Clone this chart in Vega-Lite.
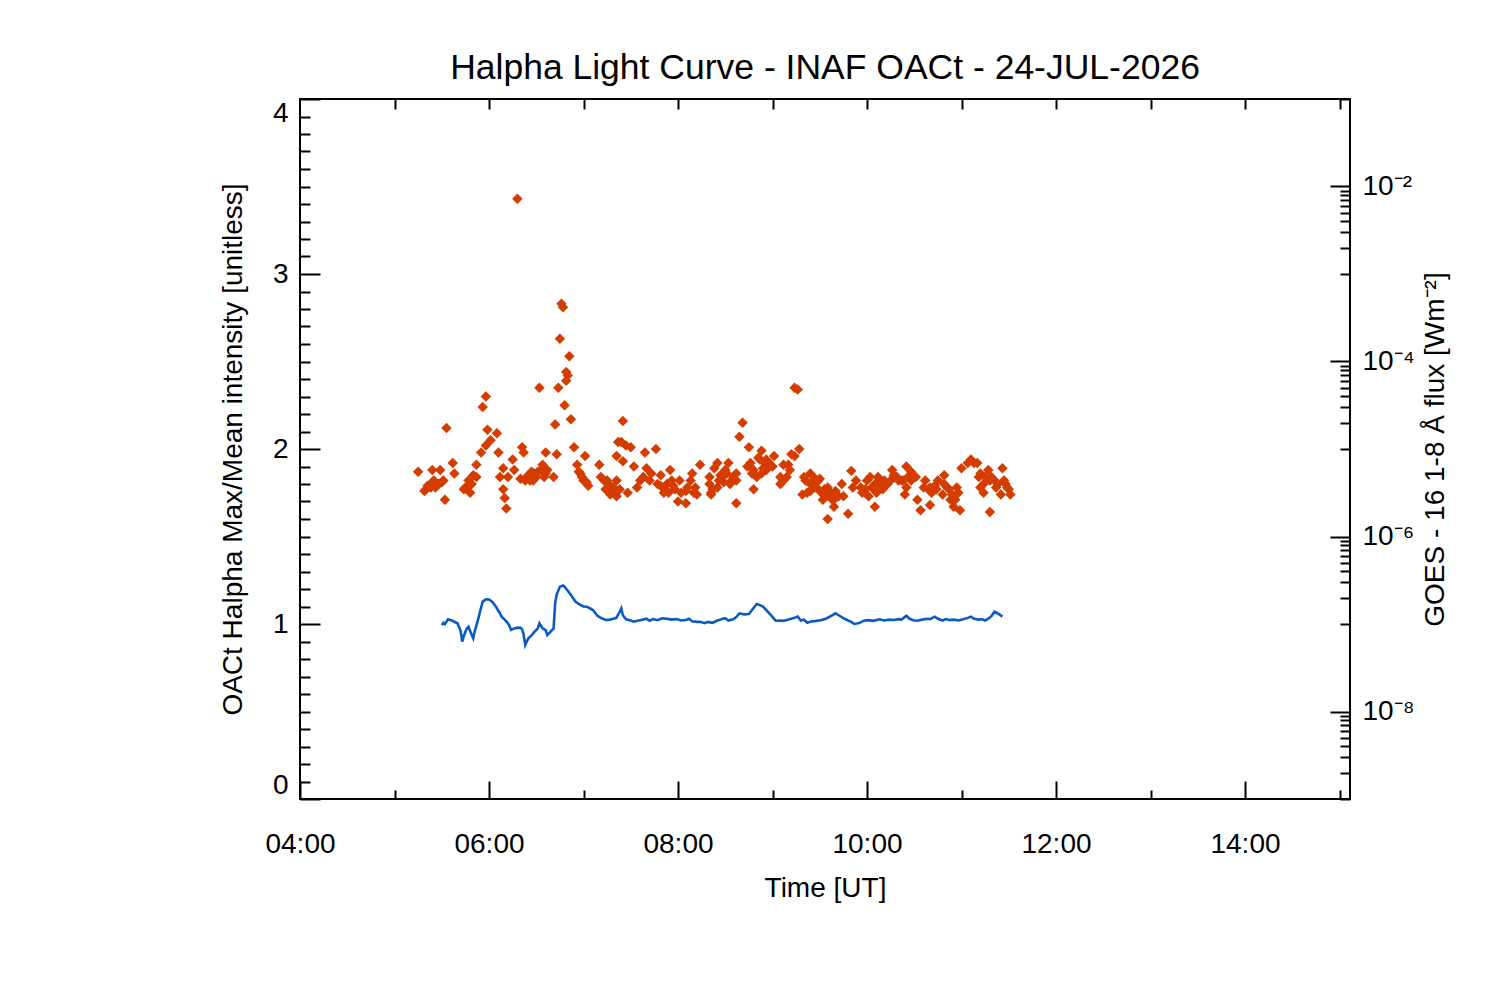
{
  "$schema": "https://vega.github.io/schema/vega-lite/v6.json",
  "width": 1050,
  "height": 700,
  "autosize": "none",
  "padding": {"left": 300, "top": 99, "right": 150, "bottom": 201},
  "background": "white",
  "title": {
    "text": "Halpha Light Curve - INAF OACt - 24-JUL-2026",
    "font": "Liberation Sans",
    "fontSize": 35.5,
    "fontWeight": "normal",
    "color": "black",
    "anchor": "middle",
    "offset": 12
  },
  "config": {
    "view": {"stroke": "black", "strokeWidth": 2},
    "axis": {
      "domain": false,
      "grid": false,
      "tickColor": "black",
      "tickWidth": 2,
      "labelFont": "Liberation Sans",
      "labelFontSize": 28,
      "labelColor": "black",
      "labelBound": false,
      "labelOverlap": false,
      "titleFont": "Liberation Sans",
      "titleFontSize": 28,
      "titleFontWeight": "normal",
      "titleColor": "black"
    }
  },
  "datasets": {
    "halpha": [
      {"t": "05:15", "v": 1.87}, {"t": "05:19", "v": 1.76}, {"t": "05:20", "v": 1.77}, {"t": "05:21", "v": 1.79},
      {"t": "05:23", "v": 1.78}, {"t": "05:24", "v": 1.88}, {"t": "05:24", "v": 1.81}, {"t": "05:25", "v": 1.82},
      {"t": "05:26", "v": 1.78}, {"t": "05:28", "v": 1.80}, {"t": "05:29", "v": 1.88}, {"t": "05:30", "v": 1.81},
      {"t": "05:31", "v": 1.82}, {"t": "05:32", "v": 1.71}, {"t": "05:33", "v": 2.12}, {"t": "05:37", "v": 1.92},
      {"t": "05:38", "v": 1.86}, {"t": "05:44", "v": 1.77}, {"t": "05:45", "v": 1.78}, {"t": "05:46", "v": 1.77},
      {"t": "05:47", "v": 1.82}, {"t": "05:48", "v": 1.75}, {"t": "05:49", "v": 1.80}, {"t": "05:50", "v": 1.85},
      {"t": "05:52", "v": 1.91}, {"t": "05:52", "v": 1.84}, {"t": "05:55", "v": 1.98},
      {"t": "05:56", "v": 2.24}, {"t": "05:58", "v": 2.30}, {"t": "05:58", "v": 2.02}, {"t": "05:59", "v": 2.11},
      {"t": "06:01", "v": 2.05}, {"t": "06:05", "v": 2.09}, {"t": "06:06", "v": 1.98}, {"t": "06:07", "v": 1.84},
      {"t": "06:09", "v": 1.89}, {"t": "06:09", "v": 1.77}, {"t": "06:10", "v": 1.72}, {"t": "06:11", "v": 1.66},
      {"t": "06:12", "v": 1.84}, {"t": "06:15", "v": 1.94}, {"t": "06:16", "v": 1.88}, {"t": "06:18", "v": 3.43},
      {"t": "06:20", "v": 1.83}, {"t": "06:21", "v": 2.01}, {"t": "06:22", "v": 1.98}, {"t": "06:23", "v": 1.82},
      {"t": "06:24", "v": 1.84}, {"t": "06:25", "v": 1.85}, {"t": "06:26", "v": 1.82}, {"t": "06:27", "v": 1.87},
      {"t": "06:28", "v": 1.82}, {"t": "06:29", "v": 1.86}, {"t": "06:30", "v": 1.84}, {"t": "06:31", "v": 1.87},
      {"t": "06:32", "v": 2.35}, {"t": "06:33", "v": 1.88}, {"t": "06:34", "v": 1.91}, {"t": "06:35", "v": 1.84},
      {"t": "06:36", "v": 1.98}, {"t": "06:36", "v": 1.86}, {"t": "06:37", "v": 1.88},
      {"t": "06:41", "v": 1.84}, {"t": "06:42", "v": 2.14}, {"t": "06:43", "v": 1.97}, {"t": "06:44", "v": 2.35},
      {"t": "06:45", "v": 2.63}, {"t": "06:46", "v": 2.83}, {"t": "06:47", "v": 2.81}, {"t": "06:48", "v": 2.25},
      {"t": "06:49", "v": 2.39}, {"t": "06:49", "v": 2.44}, {"t": "06:50", "v": 2.42}, {"t": "06:51", "v": 2.53},
      {"t": "06:52", "v": 2.17}, {"t": "06:54", "v": 2.01}, {"t": "06:56", "v": 1.91}, {"t": "06:57", "v": 1.87},
      {"t": "06:58", "v": 1.86}, {"t": "06:59", "v": 1.84}, {"t": "07:00", "v": 1.82}, {"t": "07:01", "v": 1.96},
      {"t": "07:02", "v": 1.81}, {"t": "07:03", "v": 1.79}, {"t": "07:10", "v": 1.91},
      {"t": "07:11", "v": 1.84}, {"t": "07:13", "v": 1.82}, {"t": "07:14", "v": 1.77}, {"t": "07:15", "v": 1.82},
      {"t": "07:16", "v": 1.80}, {"t": "07:17", "v": 1.74}, {"t": "07:18", "v": 1.78},
      {"t": "07:19", "v": 1.78}, {"t": "07:19", "v": 1.77}, {"t": "07:20", "v": 1.74}, {"t": "07:21", "v": 1.96},
      {"t": "07:21", "v": 1.82}, {"t": "07:21", "v": 1.73},
      {"t": "07:22", "v": 2.04}, {"t": "07:23", "v": 1.77}, {"t": "07:24", "v": 2.04}, {"t": "07:25", "v": 2.16},
      {"t": "07:25", "v": 1.93}, {"t": "07:27", "v": 2.02}, {"t": "07:28", "v": 1.75}, {"t": "07:30", "v": 2.01},
      {"t": "07:32", "v": 1.90}, {"t": "07:34", "v": 1.78}, {"t": "07:36", "v": 1.82}, {"t": "07:38", "v": 1.84},
      {"t": "07:39", "v": 1.98}, {"t": "07:40", "v": 1.89}, {"t": "07:42", "v": 1.82}, {"t": "07:43", "v": 1.86},
      {"t": "07:46", "v": 2.00}, {"t": "07:47", "v": 1.80},
      {"t": "07:49", "v": 1.85}, {"t": "07:49", "v": 1.79}, {"t": "07:51", "v": 1.75}, {"t": "07:52", "v": 1.77},
      {"t": "07:53", "v": 1.80}, {"t": "07:54", "v": 1.75},
      {"t": "07:55", "v": 1.88}, {"t": "07:56", "v": 1.82}, {"t": "07:57", "v": 1.79}, {"t": "07:58", "v": 1.77},
      {"t": "08:00", "v": 1.70}, {"t": "08:01", "v": 1.82},
      {"t": "08:02", "v": 1.75}, {"t": "08:05", "v": 1.69}, {"t": "08:05", "v": 1.76}, {"t": "08:06", "v": 1.78},
      {"t": "08:08", "v": 1.82}, {"t": "08:09", "v": 1.86}, {"t": "08:10", "v": 1.75},
      {"t": "08:11", "v": 1.78}, {"t": "08:12", "v": 1.74}, {"t": "08:14", "v": 1.91}, {"t": "08:20", "v": 1.84},
      {"t": "08:20", "v": 1.80}, {"t": "08:21", "v": 1.75}, {"t": "08:21", "v": 1.74}, {"t": "08:22", "v": 1.77},
      {"t": "08:23", "v": 1.89}, {"t": "08:25", "v": 1.92}, {"t": "08:25", "v": 1.78}, {"t": "08:26", "v": 1.82},
      {"t": "08:27", "v": 1.85}, {"t": "08:28", "v": 1.84}, {"t": "08:29", "v": 1.81}, {"t": "08:30", "v": 1.88},
      {"t": "08:31", "v": 1.86}, {"t": "08:32", "v": 1.92},
      {"t": "08:33", "v": 1.80}, {"t": "08:34", "v": 1.82}, {"t": "08:35", "v": 1.84}, {"t": "08:37", "v": 1.69},
      {"t": "08:37", "v": 1.86}, {"t": "08:37", "v": 1.82},
      {"t": "08:39", "v": 2.07}, {"t": "08:41", "v": 2.15}, {"t": "08:44", "v": 1.90}, {"t": "08:45", "v": 2.01},
      {"t": "08:46", "v": 1.92}, {"t": "08:47", "v": 1.86}, {"t": "08:48", "v": 1.77}, {"t": "08:48", "v": 1.88},
      {"t": "08:50", "v": 1.84}, {"t": "08:51", "v": 1.95}, {"t": "08:52", "v": 1.94},
      {"t": "08:53", "v": 1.99}, {"t": "08:53", "v": 1.86}, {"t": "08:54", "v": 1.89}, {"t": "08:55", "v": 1.92},
      {"t": "08:56", "v": 1.88}, {"t": "08:56", "v": 1.94}, {"t": "08:58", "v": 1.92},
      {"t": "09:00", "v": 1.90}, {"t": "09:01", "v": 1.96}, {"t": "09:05", "v": 1.80}, {"t": "09:05", "v": 1.84},
      {"t": "09:07", "v": 1.91}, {"t": "09:07", "v": 1.82}, {"t": "09:10", "v": 1.91},
      {"t": "09:09", "v": 1.84}, {"t": "09:11", "v": 1.88}, {"t": "09:12", "v": 1.97}, {"t": "09:14", "v": 1.96},
      {"t": "09:14", "v": 2.35}, {"t": "09:16", "v": 2.34}, {"t": "09:17", "v": 2.00}, {"t": "09:19", "v": 1.74},
      {"t": "09:20", "v": 1.84}, {"t": "09:21", "v": 1.82}, {"t": "09:22", "v": 1.75},
      {"t": "09:24", "v": 1.86}, {"t": "09:24", "v": 1.76}, {"t": "09:24", "v": 1.80}, {"t": "09:26", "v": 1.84},
      {"t": "09:26", "v": 1.82},
      {"t": "09:27", "v": 1.78}, {"t": "09:28", "v": 1.78}, {"t": "09:29", "v": 1.82}, {"t": "09:29", "v": 1.82},
      {"t": "09:30", "v": 1.83}, {"t": "09:31", "v": 1.75},
      {"t": "09:32", "v": 1.71}, {"t": "09:33", "v": 1.77}, {"t": "09:34", "v": 1.73}, {"t": "09:35", "v": 1.60},
      {"t": "09:35", "v": 1.78}, {"t": "09:37", "v": 1.75}, {"t": "09:38", "v": 1.71},
      {"t": "09:39", "v": 1.67}, {"t": "09:40", "v": 1.72}, {"t": "09:40", "v": 1.76}, {"t": "09:42", "v": 1.73},
      {"t": "09:44", "v": 1.80}, {"t": "09:45", "v": 1.73},
      {"t": "09:48", "v": 1.63}, {"t": "09:50", "v": 1.875}, {"t": "09:51", "v": 1.78}, {"t": "09:53", "v": 1.82},
      {"t": "09:56", "v": 1.78}, {"t": "09:57", "v": 1.75}, {"t": "09:59", "v": 1.77}, {"t": "10:00", "v": 1.82},
      {"t": "10:01", "v": 1.73}, {"t": "10:02", "v": 1.84}, {"t": "10:03", "v": 1.78}, {"t": "10:05", "v": 1.67},
      {"t": "10:05", "v": 1.80}, {"t": "10:06", "v": 1.75}, {"t": "10:07", "v": 1.84}, {"t": "10:08", "v": 1.82},
      {"t": "10:09", "v": 1.78}, {"t": "10:10", "v": 1.77}, {"t": "10:11", "v": 1.82}, {"t": "10:13", "v": 1.80},
      {"t": "10:15", "v": 1.82}, {"t": "10:16", "v": 1.88}, {"t": "10:17", "v": 1.85}, {"t": "10:19", "v": 1.84},
      {"t": "10:20", "v": 1.82}, {"t": "10:22", "v": 1.82}, {"t": "10:23", "v": 1.82},
      {"t": "10:24", "v": 1.74}, {"t": "10:25", "v": 1.90}, {"t": "10:25", "v": 1.78}, {"t": "10:26", "v": 1.84},
      {"t": "10:28", "v": 1.87}, {"t": "10:28", "v": 1.82}, {"t": "10:31", "v": 1.84},
      {"t": "10:32", "v": 1.71}, {"t": "10:34", "v": 1.65}, {"t": "10:36", "v": 1.78}, {"t": "10:37", "v": 1.82},
      {"t": "10:39", "v": 1.77}, {"t": "10:40", "v": 1.68}, {"t": "10:40", "v": 1.78}, {"t": "10:41", "v": 1.75},
      {"t": "10:43", "v": 1.79}, {"t": "10:44", "v": 1.77}, {"t": "10:45", "v": 1.82}, {"t": "10:48", "v": 1.74},
      {"t": "10:49", "v": 1.85}, {"t": "10:49", "v": 1.80}, {"t": "10:51", "v": 1.78}, {"t": "10:52", "v": 1.77},
      {"t": "10:53", "v": 1.71}, {"t": "10:54", "v": 1.74}, {"t": "10:55", "v": 1.67}, {"t": "10:56", "v": 1.71},
      {"t": "10:57", "v": 1.78}, {"t": "10:58", "v": 1.75}, {"t": "10:59", "v": 1.65}, {"t": "11:00", "v": 1.89},
      {"t": "11:04", "v": 1.92}, {"t": "11:06", "v": 1.94}, {"t": "11:08", "v": 1.92},
      {"t": "11:10", "v": 1.92}, {"t": "11:11", "v": 1.84}, {"t": "11:12", "v": 1.78}, {"t": "11:12", "v": 1.86},
      {"t": "11:14", "v": 1.75}, {"t": "11:14", "v": 1.80}, {"t": "11:15", "v": 1.84},
      {"t": "11:17", "v": 1.88}, {"t": "11:18", "v": 1.64}, {"t": "11:18", "v": 1.82}, {"t": "11:19", "v": 1.84},
      {"t": "11:21", "v": 1.82}, {"t": "11:22", "v": 1.78}, {"t": "11:23", "v": 1.80},
      {"t": "11:25", "v": 1.74}, {"t": "11:26", "v": 1.89}, {"t": "11:27", "v": 1.82}, {"t": "11:28", "v": 1.80},
      {"t": "11:29", "v": 1.78}, {"t": "11:30", "v": 1.77},
      {"t": "11:31", "v": 1.74}
    ],
    "lc": [
      {"t": "05:30", "v": 0.994}, {"t": "05:31", "v": 1.007}, {"t": "05:32", "v": 1.0}, {"t": "05:34", "v": 1.027},
      {"t": "05:36", "v": 1.022}, {"t": "05:38", "v": 1.013}, {"t": "05:40", "v": 1.004}, {"t": "05:42", "v": 0.96},
      {"t": "05:43", "v": 0.899}, {"t": "05:44", "v": 0.93}, {"t": "05:45", "v": 0.956}, {"t": "05:46", "v": 0.975},
      {"t": "05:47", "v": 0.985}, {"t": "05:48", "v": 0.96}, {"t": "05:50", "v": 0.918}, {"t": "05:51", "v": 0.96},
      {"t": "05:53", "v": 1.023}, {"t": "05:54", "v": 1.06}, {"t": "05:56", "v": 1.128}, {"t": "05:58", "v": 1.141},
      {"t": "06:00", "v": 1.14}, {"t": "06:02", "v": 1.128}, {"t": "06:04", "v": 1.105}, {"t": "06:05", "v": 1.09},
      {"t": "06:07", "v": 1.06}, {"t": "06:08", "v": 1.042}, {"t": "06:10", "v": 1.025}, {"t": "06:12", "v": 1.004},
      {"t": "06:13", "v": 0.99}, {"t": "06:14", "v": 0.966}, {"t": "06:16", "v": 0.975}, {"t": "06:18", "v": 0.979},
      {"t": "06:20", "v": 0.978}, {"t": "06:21", "v": 0.97}, {"t": "06:22", "v": 0.94}, {"t": "06:23", "v": 0.88},
      {"t": "06:24", "v": 0.9}, {"t": "06:25", "v": 0.918}, {"t": "06:27", "v": 0.935}, {"t": "06:29", "v": 0.956},
      {"t": "06:31", "v": 0.975}, {"t": "06:32", "v": 1.004}, {"t": "06:33", "v": 0.99}, {"t": "06:34", "v": 0.975},
      {"t": "06:36", "v": 0.965}, {"t": "06:37", "v": 0.937}, {"t": "06:39", "v": 0.955}, {"t": "06:41", "v": 0.975},
      {"t": "06:42", "v": 1.118}, {"t": "06:43", "v": 1.17}, {"t": "06:45", "v": 1.213}, {"t": "06:47", "v": 1.22},
      {"t": "06:48", "v": 1.213}, {"t": "06:50", "v": 1.19}, {"t": "06:52", "v": 1.166}, {"t": "06:55", "v": 1.127},
      {"t": "06:58", "v": 1.109}, {"t": "07:00", "v": 1.1}, {"t": "07:02", "v": 1.099}, {"t": "07:04", "v": 1.09},
      {"t": "07:06", "v": 1.08}, {"t": "07:09", "v": 1.046}, {"t": "07:11", "v": 1.035}, {"t": "07:14", "v": 1.023},
      {"t": "07:17", "v": 1.025}, {"t": "07:19", "v": 1.03}, {"t": "07:21", "v": 1.036}, {"t": "07:23", "v": 1.07},
      {"t": "07:24", "v": 1.09}, {"t": "07:25", "v": 1.05}, {"t": "07:27", "v": 1.027}, {"t": "07:30", "v": 1.02},
      {"t": "07:32", "v": 1.013}, {"t": "07:35", "v": 1.02}, {"t": "07:38", "v": 1.026}, {"t": "07:40", "v": 1.03},
      {"t": "07:42", "v": 1.018}, {"t": "07:44", "v": 1.028}, {"t": "07:47", "v": 1.022}, {"t": "07:50", "v": 1.032},
      {"t": "07:53", "v": 1.03}, {"t": "07:56", "v": 1.025}, {"t": "07:59", "v": 1.028}, {"t": "08:02", "v": 1.02},
      {"t": "08:05", "v": 1.023}, {"t": "08:07", "v": 1.03}, {"t": "08:09", "v": 1.015}, {"t": "08:12", "v": 1.012},
      {"t": "08:14", "v": 1.013}, {"t": "08:17", "v": 1.005}, {"t": "08:19", "v": 1.012}, {"t": "08:22", "v": 1.007},
      {"t": "08:25", "v": 1.02}, {"t": "08:28", "v": 1.028}, {"t": "08:30", "v": 1.033}, {"t": "08:32", "v": 1.02},
      {"t": "08:35", "v": 1.027}, {"t": "08:37", "v": 1.04}, {"t": "08:39", "v": 1.061}, {"t": "08:42", "v": 1.055},
      {"t": "08:45", "v": 1.057}, {"t": "08:47", "v": 1.08}, {"t": "08:50", "v": 1.114}, {"t": "08:52", "v": 1.108},
      {"t": "08:54", "v": 1.099}, {"t": "08:57", "v": 1.07}, {"t": "08:59", "v": 1.051}, {"t": "09:02", "v": 1.019},
      {"t": "09:05", "v": 1.02}, {"t": "09:07", "v": 1.018}, {"t": "09:09", "v": 1.023}, {"t": "09:12", "v": 1.03},
      {"t": "09:14", "v": 1.035}, {"t": "09:16", "v": 1.042}, {"t": "09:18", "v": 1.02}, {"t": "09:20", "v": 1.025},
      {"t": "09:22", "v": 1.007}, {"t": "09:25", "v": 1.015}, {"t": "09:28", "v": 1.018}, {"t": "09:31", "v": 1.023},
      {"t": "09:34", "v": 1.03}, {"t": "09:37", "v": 1.045}, {"t": "09:40", "v": 1.061}, {"t": "09:42", "v": 1.05},
      {"t": "09:45", "v": 1.033}, {"t": "09:48", "v": 1.02}, {"t": "09:50", "v": 1.012}, {"t": "09:52", "v": 1.0},
      {"t": "09:55", "v": 1.005}, {"t": "09:58", "v": 1.019}, {"t": "10:01", "v": 1.022}, {"t": "10:04", "v": 1.018},
      {"t": "10:08", "v": 1.027}, {"t": "10:11", "v": 1.02}, {"t": "10:14", "v": 1.025}, {"t": "10:17", "v": 1.023},
      {"t": "10:20", "v": 1.028}, {"t": "10:22", "v": 1.025}, {"t": "10:25", "v": 1.047}, {"t": "10:27", "v": 1.03},
      {"t": "10:30", "v": 1.02}, {"t": "10:32", "v": 1.019}, {"t": "10:35", "v": 1.025}, {"t": "10:38", "v": 1.03},
      {"t": "10:40", "v": 1.028}, {"t": "10:43", "v": 1.042}, {"t": "10:45", "v": 1.03}, {"t": "10:48", "v": 1.02},
      {"t": "10:50", "v": 1.028}, {"t": "10:52", "v": 1.023}, {"t": "10:55", "v": 1.025}, {"t": "10:58", "v": 1.02},
      {"t": "11:01", "v": 1.027}, {"t": "11:04", "v": 1.035}, {"t": "11:06", "v": 1.042}, {"t": "11:08", "v": 1.03},
      {"t": "11:11", "v": 1.025}, {"t": "11:13", "v": 1.027}, {"t": "11:15", "v": 1.02}, {"t": "11:17", "v": 1.03},
      {"t": "11:19", "v": 1.045}, {"t": "11:21", "v": 1.07}, {"t": "11:23", "v": 1.06}, {"t": "11:24", "v": 1.055},
      {"t": "11:26", "v": 1.042}
    ]
  },
  "layer": [
    {
      "layer": [
        {
          "data": {"name": "halpha", "format": {"parse": {"t": "utc:'%H:%M'"}}},
          "mark": {"type": "point", "shape": "diamond", "filled": true, "size": 110, "color": "#d43c00", "opacity": 1},
          "encoding": {
            "x": {
              "field": "t",
              "type": "temporal",
              "scale": {"type": "utc", "domain": [
                {"year": 1900, "month": 1, "date": 1, "hours": 4, "minutes": 0, "utc": true},
                {"year": 1900, "month": 1, "date": 1, "hours": 15, "minutes": 6, "seconds": 40, "utc": true}
              ]},
              "axis": {
                "orient": "bottom",
                "values": [
                  {"year": 1900, "month": 1, "date": 1, "hours": 4, "utc": true},
                  {"year": 1900, "month": 1, "date": 1, "hours": 6, "utc": true},
                  {"year": 1900, "month": 1, "date": 1, "hours": 8, "utc": true},
                  {"year": 1900, "month": 1, "date": 1, "hours": 10, "utc": true},
                  {"year": 1900, "month": 1, "date": 1, "hours": 12, "utc": true},
                  {"year": 1900, "month": 1, "date": 1, "hours": 14, "utc": true}
                ],
                "labelExpr": "utcFormat(datum.value, '%H:%M')",
                "tickSize": -18,
                "labelPadding": 49,
                "labelFlush": false,
                "title": "Time [UT]",
                "titlePadding": 16
              }
            },
            "y": {
              "field": "v",
              "type": "quantitative",
              "scale": {"domain": [0, 4], "nice": false, "zero": false},
              "axis": {
                "orient": "left",
                "values": [0, 1, 2, 3, 4],
                "tickSize": -20,
                "labelPadding": 32,
                "labelFlush": true,
                "title": "OACt Halpha Max/Mean intensity [unitless]",
                "titlePadding": 25
              }
            }
          }
        },
        {
          "data": {"name": "lc", "format": {"parse": {"t": "utc:'%H:%M'"}}},
          "mark": {"type": "line", "color": "#0b5ac4", "strokeWidth": 2.6},
          "encoding": {
            "x": {
              "field": "t",
              "type": "temporal",
              "scale": {"type": "utc", "domain": [
                {"year": 1900, "month": 1, "date": 1, "hours": 4, "minutes": 0, "utc": true},
                {"year": 1900, "month": 1, "date": 1, "hours": 15, "minutes": 6, "seconds": 40, "utc": true}
              ]},
              "axis": {
                "orient": "bottom",
                "values": [
                  {"year": 1900, "month": 1, "date": 1, "hours": 5, "utc": true},
                  {"year": 1900, "month": 1, "date": 1, "hours": 7, "utc": true},
                  {"year": 1900, "month": 1, "date": 1, "hours": 9, "utc": true},
                  {"year": 1900, "month": 1, "date": 1, "hours": 11, "utc": true},
                  {"year": 1900, "month": 1, "date": 1, "hours": 13, "utc": true},
                  {"year": 1900, "month": 1, "date": 1, "hours": 15, "utc": true}
                ],
                "tickSize": -9,
                "labels": false,
                "title": null
              }
            },
            "y": {
              "field": "v",
              "type": "quantitative",
              "scale": {"domain": [0, 4], "nice": false, "zero": false},
              "axis": {
                "orient": "left",
                "values": [0.1, 0.2, 0.3, 0.4, 0.5, 0.6, 0.7, 0.8, 0.9, 1.1, 1.2, 1.3, 1.4, 1.5, 1.6, 1.7, 1.8, 1.9, 2.1, 2.2, 2.3, 2.4, 2.5, 2.6, 2.7, 2.8, 2.9, 3.1, 3.2, 3.3, 3.4, 3.5, 3.6, 3.7, 3.8, 3.9],
                "tickSize": -10,
                "labels": false,
                "title": null
              }
            }
          }
        }
      ],
      "resolve": {"scale": {"y": "shared"}, "axis": {"x": "independent", "y": "independent"}}
    },
    {
      "data": {"values": []},
      "layer": [
        {
          "mark": {"type": "point", "opacity": 0},
          "encoding": {
            "x": {
              "field": "t",
              "type": "temporal",
              "scale": {"type": "utc", "domain": [
                {"year": 1900, "month": 1, "date": 1, "hours": 4, "minutes": 0, "utc": true},
                {"year": 1900, "month": 1, "date": 1, "hours": 15, "minutes": 6, "seconds": 40, "utc": true}
              ]},
              "axis": {
                "orient": "top",
                "values": [
                  {"year": 1900, "month": 1, "date": 1, "hours": 5, "utc": true},
                  {"year": 1900, "month": 1, "date": 1, "hours": 6, "utc": true},
                  {"year": 1900, "month": 1, "date": 1, "hours": 7, "utc": true},
                  {"year": 1900, "month": 1, "date": 1, "hours": 8, "utc": true},
                  {"year": 1900, "month": 1, "date": 1, "hours": 9, "utc": true},
                  {"year": 1900, "month": 1, "date": 1, "hours": 10, "utc": true},
                  {"year": 1900, "month": 1, "date": 1, "hours": 11, "utc": true},
                  {"year": 1900, "month": 1, "date": 1, "hours": 12, "utc": true},
                  {"year": 1900, "month": 1, "date": 1, "hours": 13, "utc": true},
                  {"year": 1900, "month": 1, "date": 1, "hours": 14, "utc": true},
                  {"year": 1900, "month": 1, "date": 1, "hours": 15, "utc": true}
                ],
                "tickSize": -10,
                "labels": false,
                "title": null
              }
            },
            "y": {
              "field": "flux",
              "type": "quantitative",
              "scale": {"type": "log", "domain": [1e-9, 0.1], "nice": false},
              "axis": {
                "orient": "right",
                "values": [1e-8, 1e-6, 1e-4, 1e-2],
                "tickSize": -20,
                "labelPadding": 32,
                "labelExpr": "'10' + ['', '⁻¹', '⁻²', '⁻³', '⁻⁴', '⁻⁵', '⁻⁶', '⁻⁷', '⁻⁸', '⁻⁹'][round(-log(datum.value) / LN10)]",
                "title": "GOES - 16 1-8 Å flux [Wm⁻²]",
                "titleAngle": 270,
                "titleBaseline": "top",
                "titlePadding": 7
              }
            }
          }
        },
        {
          "mark": {"type": "point", "opacity": 0},
          "encoding": {
            "x": {
              "field": "t",
              "type": "temporal",
              "scale": {"type": "utc", "domain": [
                {"year": 1900, "month": 1, "date": 1, "hours": 4, "minutes": 0, "utc": true},
                {"year": 1900, "month": 1, "date": 1, "hours": 15, "minutes": 6, "seconds": 40, "utc": true}
              ]},
              "axis": null
            },
            "y": {
              "field": "flux",
              "type": "quantitative",
              "scale": {"type": "log", "domain": [1e-9, 0.1], "nice": false},
              "axis": {
                "orient": "right",
                "values": [1e-9, 2e-9, 3e-9, 4e-9, 5e-9, 6e-9, 7e-9, 8e-9, 9e-9,
                           1e-7, 2e-7, 3e-7, 4e-7, 5e-7, 6e-7, 7e-7, 8e-7, 9e-7,
                           1e-5, 2e-5, 3e-5, 4e-5, 5e-5, 6e-5, 7e-5, 8e-5, 9e-5,
                           1e-3, 2e-3, 3e-3, 4e-3, 5e-3, 6e-3, 7e-3, 8e-3, 9e-3,
                           0.1],
                "tickSize": -10,
                "labels": false,
                "title": null
              }
            }
          }
        }
      ],
      "resolve": {"scale": {"y": "shared"}, "axis": {"x": "independent", "y": "independent"}}
    }
  ],
  "resolve": {"scale": {"y": "independent"}, "axis": {"x": "independent", "y": "independent"}}
}
